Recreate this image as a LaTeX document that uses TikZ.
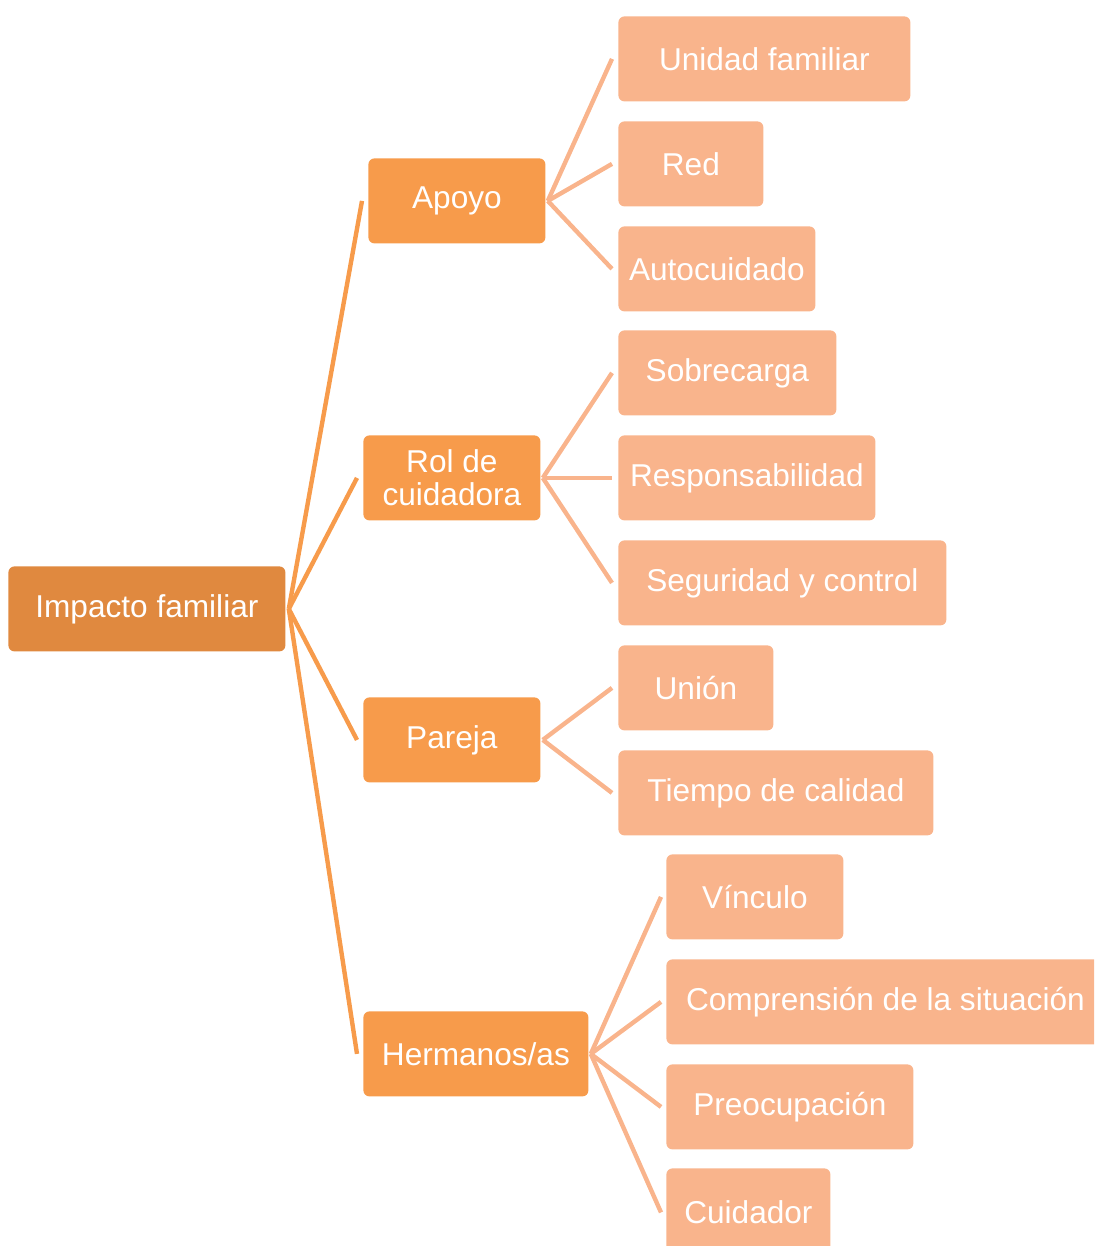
\documentclass[tikz,border=0pt]{standalone}
\usepackage{fontspec}
\setmainfont{Liberation Sans}
\definecolor{rootfill}{HTML}{E0893F}
\definecolor{midfill}{HTML}{F79B4B}
\definecolor{leaffill}{HTML}{F9B48C}
\begin{document}
\begin{tikzpicture}[x=0.5pt,y=-0.5pt,
  box/.style={rounded corners=3pt, text=white, inner sep=0pt, align=center,
    font=\fontsize{15.8}{16.5}\selectfont},
  rootbox/.style={box, fill=rootfill},
  midbox/.style={box, fill=midfill},
  leafbox/.style={box, fill=leaffill},
  lvlone/.style={draw=midfill, line width=2.2pt},
  lvltwo/.style={draw=leaffill, line width=2.2pt}]
\useasboundingbox (0,0) rectangle (1094,1246);
\clip (0,0) rectangle (1094,1246);
% box helper: left, top, right, bottom corners
\newcommand{\bx}[6]{\node[#1, minimum width=#4*0.5pt-#2*0.5pt, minimum height=#5*0.5pt-#3*0.5pt, anchor=north west] (#6) at (#2,#3)}
% root and first level
\bx{rootbox}{8}{566}{285}{651}{root} {Impacto familiar};
\bx{midbox}{368}{158}{545}{243}{apoyo} {Apoyo};
\bx{midbox}{363}{435}{540}{520}{rol} {Rol de\\cuidadora};
\bx{midbox}{363}{697}{540}{782}{pareja} {Pareja};
\bx{midbox}{363}{1011}{588}{1096}{herm} {Hermanos/as};
% second level
\bx{leafbox}{618}{16}{910}{101}{unidad} {Unidad familiar};
\bx{leafbox}{618}{121}{763}{206}{red} {Red};
\bx{leafbox}{618}{226}{815}{311}{auto} {Autocuidado};
\bx{leafbox}{618}{330}{836}{415}{sobre} {Sobrecarga};
\bx{leafbox}{618}{435}{875}{520}{resp} {Responsabilidad};
\bx{leafbox}{618}{540}{946}{625}{seg} {Seguridad y control};
\bx{leafbox}{618}{645}{773}{730}{union} {Unión};
\bx{leafbox}{618}{750}{933}{835}{tiempo} {Tiempo de calidad};
\bx{leafbox}{666}{854}{843}{939}{vinc} {Vínculo};
\bx{leafbox}{666}{959}{1104}{1044}{comp} {Comprensión de la situación};
\bx{leafbox}{666}{1064}{913}{1149}{preo} {Preocupación};
\bx{leafbox}{666}{1168}{830}{1256}{cuid} {Cuidador};
% root to first level
\foreach \c in {apoyo,rol,pareja,herm}
  \draw[lvlone] ([xshift=1.5pt]root.east) -- ([xshift=-3pt]\c.west);
% first level to second level
\foreach \p/\c in {apoyo/unidad,apoyo/red,apoyo/auto,rol/sobre,rol/resp,rol/seg,pareja/union,pareja/tiempo}
  \draw[lvltwo] ([xshift=1pt]\p.east) -- ([xshift=-3pt]\c.west);
\foreach \c in {vinc,comp,preo,cuid}
  \draw[lvltwo] ([xshift=1pt]herm.east) -- ([xshift=-2.5pt]\c.west);
\end{tikzpicture}
\end{document}
